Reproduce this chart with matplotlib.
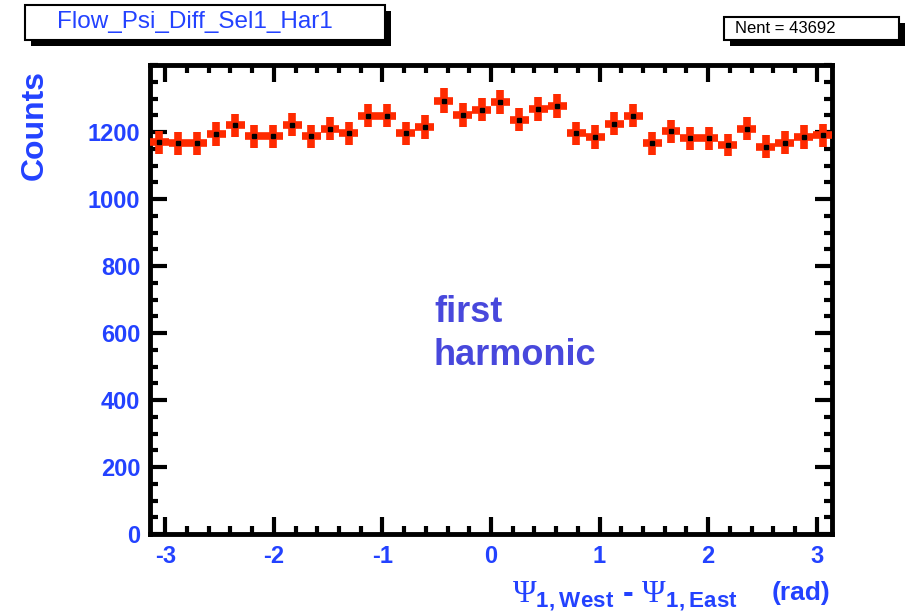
import numpy as np
import matplotlib.pyplot as plt
from matplotlib.patches import Rectangle
from matplotlib.ticker import MultipleLocator

# bin contents (36 bins from -pi to pi)
counts = [1170, 1166, 1166, 1194, 1220, 1187, 1187, 1222, 1187,
          1210, 1196, 1249, 1249, 1196, 1215, 1294, 1250, 1267,
          1289, 1237, 1269, 1277, 1196, 1185, 1225, 1249, 1166,
          1202, 1181, 1181, 1161, 1210, 1156, 1168, 1185, 1190]
x_ticks = [-3, -2, -1, 0, 1, 2, 3]
y_ticks = [0, 200, 400, 600, 800, 1000, 1200]
hist_name = 'Flow_Psi_Diff_Sel1_Har1'
nent = 43692

BLUE = '#2342ff'
RED = '#ff2a00'
TEXT_BLUE = '#4848dc'
W, H = 911, 616

plt.rcParams['mathtext.fontset'] = 'custom'
plt.rcParams['mathtext.rm'] = 'Liberation Serif'
plt.rcParams['mathtext.bf'] = 'Liberation Sans:bold'
plt.rcParams['font.family'] = ['Liberation Sans', 'DejaVu Sans']
plt.rcParams['axes.unicode_minus'] = False


def px_box(fig, x0, y0, x1, y1, **kw):
    # rectangle given in pixel coords (origin top-left)
    r = Rectangle((x0 / W, 1 - y1 / H), (x1 - x0) / W, (y1 - y0) / H,
                  transform=fig.transFigure, **kw)
    fig.patches.append(r)


fig = plt.figure(figsize=(W / 100, H / 100), dpi=100)
ax = fig.add_axes([150 / W, 1 - 534 / H, 682 / W, 469 / H])

counts = np.array(counts, dtype=float)
edges = np.linspace(-np.pi, np.pi, len(counts) + 1)
centers = 0.5 * (edges[1:] + edges[:-1])
half = 0.5 * np.diff(edges)

ax.errorbar(centers, counts, xerr=half, yerr=np.sqrt(counts), fmt='s',
            ms=2.5, mfc='black', mec='black', ecolor=RED, elinewidth=5.5,
            capsize=0, zorder=3)

ax.set_xlim(-np.pi, np.pi)
ax.set_ylim(0, 1400)
ax.set_xticks(x_ticks)
ax.set_yticks(y_ticks)
ax.xaxis.set_minor_locator(MultipleLocator(0.2))
ax.yaxis.set_minor_locator(MultipleLocator(50))

ax.tick_params(which='both', direction='in', top=True, right=True,
               color='black', labelcolor=BLUE, labelsize=17)
ax.tick_params(which='major', length=12, width=3)
ax.tick_params(which='minor', length=6, width=3)
ax.tick_params(axis='x', pad=8)
ax.tick_params(axis='y', pad=7)
for lab in ax.get_xticklabels() + ax.get_yticklabels():
    lab.set_fontweight('bold')
for sp in ax.spines.values():
    sp.set_linewidth(3.5)

fig.text(35 / W, 1 - 125 / H, 'Counts', rotation=90, ha='center',
         va='center', fontsize=23, fontweight='bold', color=BLUE)

fig.text(434 / W, 1 - 295 / H, 'first\nharmonic', ha='left', va='top',
         fontsize=26, fontweight='bold', color=TEXT_BLUE, linespacing=1.3)

fig.text(738 / W, 1 - 602 / H,
         r'$\Psi_{\mathbf{1,West}}$ - $\Psi_{\mathbf{1,East}}$',
         ha='right', va='baseline', fontsize=23, fontweight='bold', color=BLUE)
fig.text(830 / W, 1 - 600 / H, '(rad)', ha='right', va='baseline',
         fontsize=19, fontweight='bold', color=BLUE)

# title pave with shadow
px_box(fig, 31, 11, 391, 46, facecolor='black', edgecolor='none')
px_box(fig, 25, 5, 385, 40, facecolor='white', edgecolor='black', lw=1.5)
fig.text(57 / W, 1 - 22 / H, hist_name, ha='left', va='center',
         fontsize=17.5, color=BLUE)

# stats pave
px_box(fig, 730, 23, 905, 46, facecolor='black', edgecolor='none')
px_box(fig, 724, 17, 899, 40, facecolor='white', edgecolor='black', lw=1.5)
fig.text(735 / W, 1 - 28.5 / H, f'Nent = {nent}', ha='left', va='center',
         fontsize=12, color='black')

fig.savefig('out.png', dpi=100, facecolor='white')
